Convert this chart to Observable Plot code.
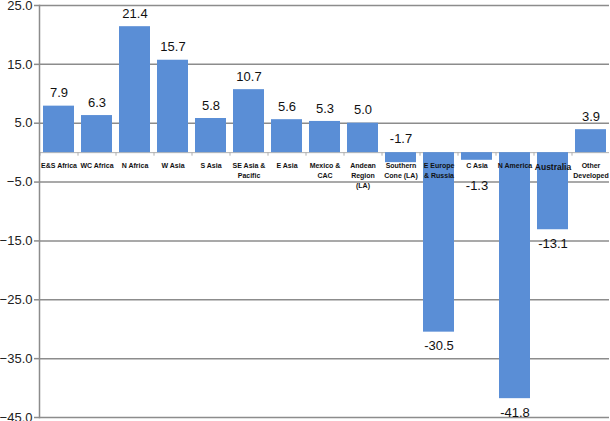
<!DOCTYPE html>
<html>
<head>
<meta charset="utf-8">
<script src="https://cdn.jsdelivr.net/npm/d3@7"></script>
<script src="https://cdn.jsdelivr.net/npm/@observablehq/plot@0.6"></script>
<style>
  html, body { margin: 0; padding: 0; background: #fff; }
  svg { font-family: "Liberation Sans", Arial, Helvetica, sans-serif; }
</style>
</head>
<body>
<div id="chart"></div>
<script>
const categories = [
  "E&S Africa", "WC Africa", "N Africa", "W Asia", "S Asia",
  "SE Asia &\nPacific", "E Asia", "Mexico &\nCAC", "Andean\nRegion\n(LA)",
  "Southern\nCone (LA)", "E Europe\n& Russia", "C Asia", "N America",
  "Australia", "Other\nDeveloped"
];
const values = [7.9, 6.3, 21.4, 15.7, 5.8, 10.7, 5.6, 5.3, 5.0, -1.7, -30.5, -1.3, -41.8, -13.1, 3.9];
const yTicks = [25, 15, 5, -5, -15, -25, -35, -45];

const data = categories.map((c, i) => ({category: c, value: values[i]}));

const isSouthern = d => d.category.startsWith("Southern");
const isCAsia = d => d.category === "C Asia";
const posLabels = data.filter(d => d.value >= 0);
const negLabels = data.filter(d => d.value < 0 && !isSouthern(d) && !isCAsia(d));
const southLabel = data.filter(isSouthern);
const cAsiaLabel = data.filter(isCAsia);
const fmt = d => d.value.toFixed(1);

const chart = Plot.plot({
  width: 610,
  height: 421,
  marginLeft: 39,
  marginRight: 1,
  marginTop: 5,
  marginBottom: 4,
  x: {domain: categories, paddingInner: 0.19, paddingOuter: 0.095, axis: null},
  y: {domain: [-45, 25], axis: null},
  marks: [
    Plot.ruleY(yTicks, {stroke: "#8c8c8c", strokeWidth: 1.5}),
    Plot.ruleY([0], {stroke: "#b0b0b0", strokeWidth: 1}),
    Plot.barY(data, {x: "category", y: "value", fill: "#5a8ed6"}),
    Plot.ruleX(categories, {x: d => d, dx: -19, y1: 0, y2: -0.6, stroke: "#b0b0b0"}),
    Plot.axisY({ticks: yTicks, tickFormat: d3.format(".1f"), tickSize: 5, tickPadding: 2,
      fontSize: 13, color: "#222", stroke: "#8c8c8c", strokeWidth: 1.5, strokeOpacity: 1, label: null}),
    Plot.frame({anchor: "left", stroke: "#8c8c8c", strokeWidth: 1.5}),
    Plot.text(data, {
      x: "category", y: 0, text: "category",
      lineAnchor: "top", lineHeight: 1.43,
      dy: 8.5,
      fontSize: d => d.category === "Australia" ? 8.5 : 7,
      fontWeight: "bold", fill: "#111"
    }),
    Plot.text(posLabels, {x: "category", y: "value", text: fmt, dy: -13, fontSize: 13, fill: "#111"}),
    Plot.text(negLabels, {x: "category", y: "value", text: fmt, dy: 14, fontSize: 13, fill: "#111"}),
    Plot.text(southLabel, {x: "category", y: 0, text: fmt, dy: -14, fontSize: 13, fill: "#111"}),
    Plot.text(cAsiaLabel, {x: "category", y: "value", text: fmt, dy: 26, fontSize: 13, fill: "#111"})
  ]
});
document.getElementById("chart").appendChild(chart);
</script>
</body>
</html>
